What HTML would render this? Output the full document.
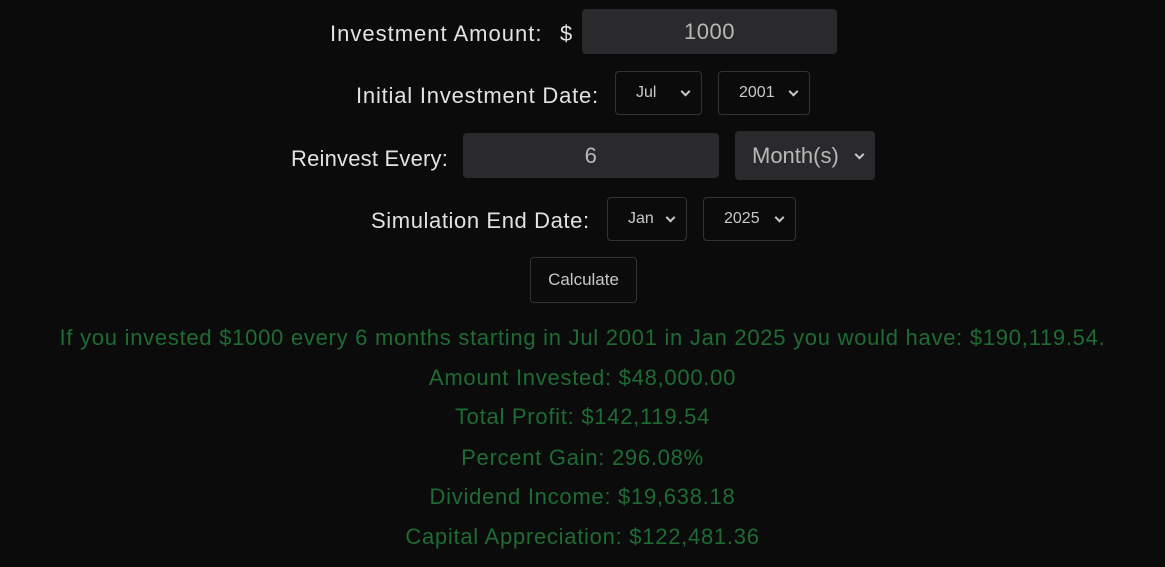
<!DOCTYPE html>
<html><head><meta charset="utf-8"><style>
html,body{margin:0;padding:0;width:1165px;height:567px;background:#0b0b0b;overflow:hidden;font-family:"Liberation Sans",sans-serif;}
.a{position:absolute;white-space:nowrap;}
.lbl{color:#e2e2e2;font-size:22px;line-height:26px;letter-spacing:0.8px;}
.inp{background:#2a2a2d;border-radius:4px;color:#b8b8b8;font-size:22px;display:flex;align-items:center;justify-content:center;letter-spacing:0.5px;}
.sel{border:1px solid #333;border-radius:4px;box-sizing:border-box;color:#c8c8c8;font-size:16px;display:flex;align-items:center;padding-left:20px;}
.sel::after{content:"";position:absolute;right:12px;top:50%;width:5px;height:5px;border-right:2px solid #c8c8c8;border-bottom:2px solid #c8c8c8;transform:translateY(-70%) rotate(45deg);}
.g{left:0;width:1165px;text-align:center;color:#1e6b34;font-size:22px;line-height:26px;letter-spacing:0.73px;}
</style></head><body>
<div class="a lbl" style="left:330px;top:21px;letter-spacing:1px">Investment Amount:</div>
<div class="a lbl" style="left:560px;top:21px">$</div>
<div class="a inp" style="left:582px;top:9px;width:255px;height:45px">1000</div>

<div class="a lbl" style="left:356px;top:83px">Initial Investment Date:</div>
<div class="a sel" style="left:615px;top:71px;width:87px;height:44px">Jul</div>
<div class="a sel" style="left:718px;top:71px;width:92px;height:44px">2001</div>

<div class="a lbl" style="left:291px;top:146px;letter-spacing:0.2px">Reinvest Every:</div>
<div class="a inp" style="left:463px;top:133px;width:256px;height:45px">6</div>
<div class="a sel" style="left:735px;top:131px;width:140px;height:49px;background:#2a2a2d;border:none;font-size:22px;padding-left:17px;color:#b8b8b8">Month(s)</div>

<div class="a lbl" style="left:371px;top:208px;letter-spacing:0.6px">Simulation End Date:</div>
<div class="a sel" style="left:607px;top:197px;width:80px;height:44px">Jan</div>
<div class="a sel" style="left:703px;top:197px;width:93px;height:44px">2025</div>

<div class="a" style="left:530px;top:257px;width:107px;height:46px;box-sizing:border-box;border:1px solid #333;border-radius:4px;color:#c8c8c8;font-size:17px;display:flex;align-items:center;justify-content:center">Calculate</div>

<div class="a g" style="top:325px">If you invested $1000 every 6 months starting in Jul 2001 in Jan 2025 you would have: $190,119.54.</div>
<div class="a g" style="top:365px">Amount Invested: $48,000.00</div>
<div class="a g" style="top:404px">Total Profit: $142,119.54</div>
<div class="a g" style="top:445px">Percent Gain: 296.08%</div>
<div class="a g" style="top:484px">Dividend Income: $19,638.18</div>
<div class="a g" style="top:524px">Capital Appreciation: $122,481.36</div>
</body></html>
